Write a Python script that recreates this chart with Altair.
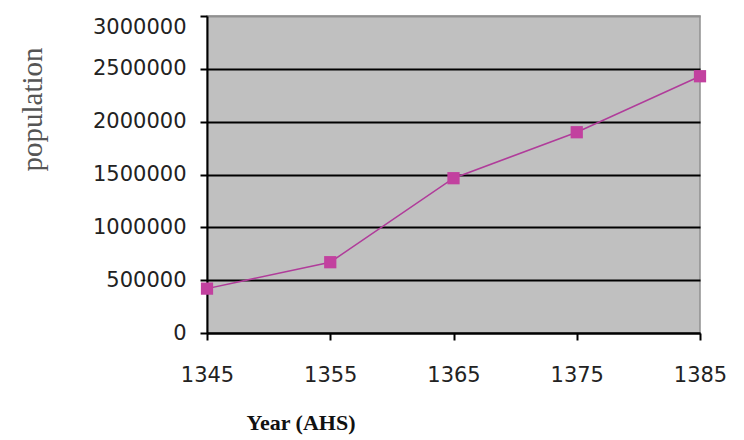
import altair as alt
import pandas as pd

years = [1345, 1355, 1365, 1375, 1385]
population = [420000, 670000, 1465000, 1900000, 2430000]
y_ticks = [0, 500000, 1000000, 1500000, 2000000, 2500000, 3000000]

df = pd.DataFrame({"year": years, "population": population})

x_enc = alt.X("year:Q",
              scale=alt.Scale(domain=[1345, 1385], nice=False, zero=False),
              axis=alt.Axis(values=years, format="d", grid=False,
                            domainColor="black", domainWidth=2,
                            tickColor="black", tickWidth=2, tickSize=7,
                            labelFont="DejaVu Sans", labelFontSize=21, labelColor="#222",
                            labelPadding=24, labelFlush=False, labelAlign="center",
                            title="Year (AHS)", titleFont="Liberation Serif",
                            titleFontSize=22, titleFontWeight="bold", titleColor="#111",
                            titleX=39, titleY=96, titleAlign="left",
                            titleBaseline="alphabetic", titleAnchor="start"))
y_enc = alt.Y("population:Q",
              scale=alt.Scale(domain=[0, 3000000], nice=False),
              axis=alt.Axis(values=y_ticks, format="d", grid=True,
                            gridColor={"condition": {"test": "datum.value >= 3000000", "value": "#909090"}, "value": "black"},
                            gridWidth=2,
                            domainColor="black", domainWidth=2,
                            tickColor="black", tickWidth=2, tickSize=7,
                            labelFont="DejaVu Sans", labelFontSize=21, labelColor="#222",
                            labelPadding=14, labelFlush=False,
                            labelBaseline={"condition": {"test": "datum.value >= 3000000", "value": "top"}, "value": "middle"},
                            title="population", titleFont="Liberation Serif",
                            titleFontSize=29, titleFontWeight="normal", titleColor="#555",
                            titleX=-175, titleY=93, titleAngle=-90,
                            titleAlign="center", titleBaseline="middle"))

line = alt.Chart(df).mark_line(color="#b03c9a", strokeWidth=1.5).encode(x=x_enc, y=y_enc)
pts = alt.Chart(df).mark_point(shape="square", filled=True, size=150, color="#c2419f", opacity=1).encode(x="year:Q", y="population:Q")

chart = (line + pts).properties(
    width=493, height=317,
    autosize=alt.AutoSizeParams(type="none"),
    padding={"left": 199, "top": 8, "right": 30, "bottom": 106},
    background="white",
).configure_view(fill="#c0c0c0", stroke="#909090", strokeWidth=1.5)

chart.save("out.html", embed_options={"renderer": "svg", "actions": False})
